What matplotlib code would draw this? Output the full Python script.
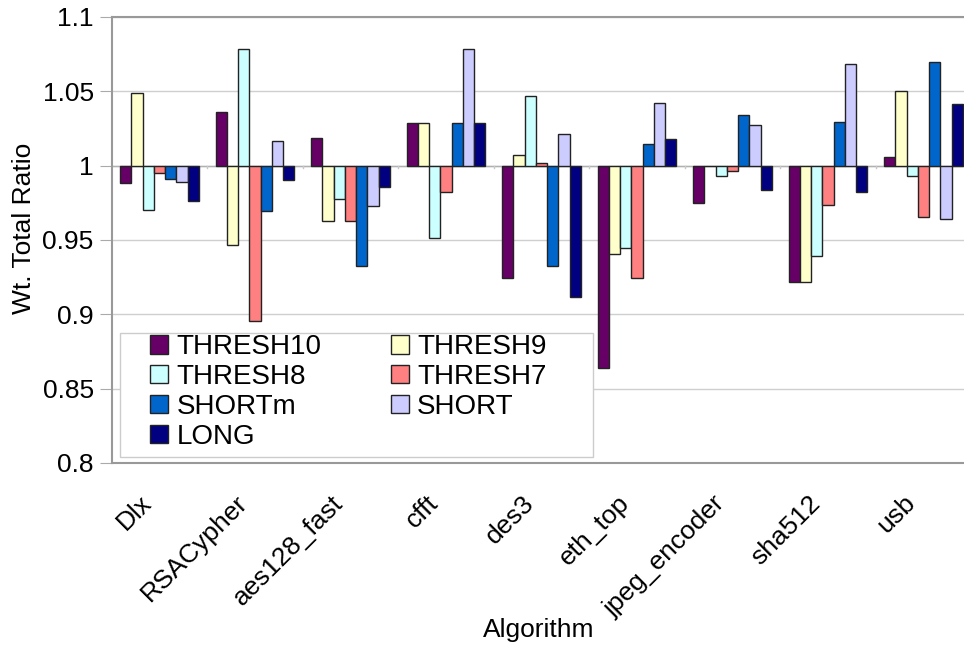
import numpy as np
import matplotlib
matplotlib.use('Agg')
from matplotlib import pyplot as plt
from matplotlib.patches import Rectangle

algorithms = ["Dlx", "RSACypher", "aes128_fast", "cfft", "des3",
              "eth_top", "jpeg_encoder", "sha512", "usb"]

series_names = ["THRESH10", "THRESH9", "THRESH8", "THRESH7", "SHORTm", "SHORT", "LONG"]
series_colors = ["#660066", "#FFFFCC", "#CCFFFF", "#FF8080", "#0066CC", "#CCCCFF", "#000080"]

thresh10 = [0.9886, 1.0363, 1.0186, 1.0289, 0.9247, 0.8636, 0.9747, 0.9220, 1.0058]
thresh9  = [1.0491, 0.9469, 0.9630, 1.0289, 1.0074, 0.9409, 1.0000, 0.9220, 1.0502]
thresh8  = [0.9704, 1.0787, 0.9774, 0.9512, 1.0470, 0.9444, 0.9931, 0.9393, 0.9928]
thresh7  = [0.9953, 0.8958, 0.9628, 0.9821, 1.0020, 0.9243, 0.9966, 0.9733, 0.9653]
shortm   = [0.9910, 0.9698, 0.9327, 1.0289, 0.9326, 1.0148, 1.0338, 1.0291, 1.0695]
short    = [0.9888, 1.0168, 0.9727, 1.0782, 1.0215, 1.0421, 1.0274, 1.0686, 0.9639]
long_    = [0.9765, 0.9906, 0.9857, 1.0289, 0.9115, 1.0181, 0.9834, 0.9823, 1.0412]

data = [thresh10, thresh9, thresh8, thresh7, shortm, short, long_]

plt.rcParams['font.family'] = ['Liberation Sans', 'DejaVu Sans']
fs = 19

fig = plt.figure(figsize=(9.64, 6.51), dpi=100)
# plot area runs a little past the right edge of the figure
ax = fig.add_axes([0.1159, 0.2888, 0.8916, 0.6851])

x = np.arange(len(algorithms))
w = 0.118
base = 1.0
bars = []
for i, (vals, name, col) in enumerate(zip(data, series_names, series_colors)):
    off = (i - 3) * w
    vals = np.array(vals)
    b = ax.bar(x + off, vals - base, width=w, bottom=base, color=col,
               edgecolor="#222222", linewidth=1.0, label=name, zorder=3)
    bars.append(b)

# category axis crosses at 1.0 with ticks between groups
ax.axhline(1.0, color="#b0b0b0", lw=1, zorder=2)
for xb in np.arange(0.5, len(algorithms) - 0.5, 1):
    ax.plot([xb, xb], [1.0, 0.9985], color="#c8c8c8", lw=1, zorder=2)

ax.set_xlim(-0.5, len(algorithms) - 0.5)
ax.set_ylim(0.8, 1.1)
ax.set_yticks([0.8, 0.85, 0.9, 0.95, 1.0, 1.05, 1.1])
ax.set_yticklabels(["0.8", "0.85", "0.9", "0.95", "1", "1.05", "1.1"])
ax.yaxis.grid(True, color="#cfcfcf", lw=1, zorder=0)
ax.set_axisbelow(True)
ax.tick_params(axis='y', length=9, color="#aaaaaa", labelsize=fs, pad=4)

ax.set_xticks(x - 0.21)
ax.set_xticklabels(algorithms, rotation=45, ha='right', va='top',
                   rotation_mode='anchor', fontsize=fs)
ax.tick_params(axis='x', length=0, pad=20)

for side in ["left", "top", "bottom"]:
    ax.spines[side].set_color("#999999")
    ax.spines[side].set_linewidth(1.5)
ax.spines["right"].set_visible(False)

fig.text(24 / 964, 1 - 228 / 651, "Wt. Total Ratio", fontsize=fs,
         rotation=90, ha='center', va='center')
fig.text(539 / 964, 1 - 630 / 651, "Algorithm", fontsize=fs,
         ha='center', va='center')

# legend box
fig.patches.append(Rectangle((120 / 964, 1 - 457 / 651), 473 / 964, 124 / 651,
                             transform=fig.transFigure, facecolor="white",
                             edgecolor="#cccccc", lw=1, zorder=4))
order = [0, 2, 4, 6, 1, 3, 5]
leg = fig.legend([bars[i] for i in order], [series_names[i] for i in order],
                 ncol=2, loc='upper left', bbox_to_anchor=(150 / 964, 1 - 334 / 651),
                 fontsize=20, frameon=False, borderpad=0.0, borderaxespad=0.0,
                 handlelength=0.65, handleheight=0.65, handletextpad=0.3,
                 labelspacing=0.14, columnspacing=2.5)
leg.set_zorder(5)

fig.savefig("out.png", dpi=100)
